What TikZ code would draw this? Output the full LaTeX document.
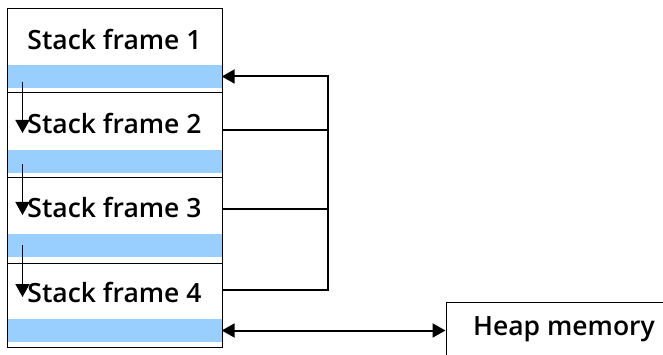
\documentclass[tikz,border=0pt]{standalone}
\usepackage{fontspec}
\setmainfont{Open Sans}[BoldFont={Open Sans Semibold}]
\usetikzlibrary{arrows.meta}
\definecolor{bandblue}{RGB}{153,207,255}
\tikzset{
  frame/.style={draw=black, line width=1pt, minimum width=215pt, inner sep=0pt, fill=none},
  band/.style={fill=bandblue, draw=none, minimum width=214pt, minimum height=23pt, inner sep=0pt},
  lbl/.style={font=\fontsize{26.5}{30}\selectfont\bfseries, inner sep=0pt, anchor=base},
  conn/.style={line width=2pt, draw=black},
  tip/.style={-{Triangle[length=13pt,width=14pt]}},
}
\begin{document}
\begin{tikzpicture}[x=1pt,y=-1pt]
\useasboundingbox (0,0) rectangle (663,355);
\clip (0,0) rectangle (663,355);
% blue bands
\node[band] (band1) at (114.5,76.5) {};
\node[band] (band2) at (114.5,161.5) {};
\node[band] (band3) at (114.5,245.5) {};
\node[band] (band4) at (114.5,330.5) {};
% frames
\node[frame, minimum height=84pt] (frame1) at (114.5,51) {};
\node[frame, minimum height=85pt] (frame2) at (114.5,135.5) {};
\node[frame, minimum height=85pt] (frame3) at (114.5,220.5) {};
\node[frame, minimum height=84pt] (frame4) at (114.5,305) {};
% labels
\node[lbl] (t1) at (114.5,49.3) {Stack frame 1};
\node[lbl] (t2) at (114.5,133.5) {Stack frame 2};
\node[lbl] (t3) at (114.5,218) {Stack frame 3};
\node[lbl] (t4) at (114.5,302.5) {Stack frame 4};
% heap
\node[draw=black, line width=1pt, minimum width=236pt, minimum height=56pt, inner sep=0pt,
      text height=15pt, text depth=5pt, font=\fontsize{26.5}{30}\selectfont\bfseries,
      anchor=north west] (heap) at (445.5,302) {Heap memory};
% small down arrows
\coordinate (d1s) at (22.5,82);  \coordinate (d1e) at (22.5,133);
\coordinate (d2s) at (22.5,164); \coordinate (d2e) at (22.5,215);
\coordinate (d3s) at (22.5,245); \coordinate (d3e) at (22.5,297);
\draw[conn, line width=1.6pt, tip] (d1s) -- (d1e);
\draw[conn, line width=1.6pt, tip] (d2s) -- (d2e);
\draw[conn, line width=1.6pt, tip] (d3s) -- (d3e);
% right bus
\coordinate (f2r) at (222,130);
\coordinate (f3r) at (222,209);
\coordinate (f4r) at (222,290);
\coordinate (bus) at (328,76.5);
\draw[conn, tip] (f4r) -| (bus) -- (band1.east);
\draw[conn] (f2r) -- (f2r -| bus);
\draw[conn] (f3r) -- (f3r -| bus);
% heap link
\draw[conn, {Triangle[length=13pt,width=14pt]}-{Triangle[length=13pt,width=14pt]}] (band4.east) -- (heap.west);
\end{tikzpicture}
\end{document}
